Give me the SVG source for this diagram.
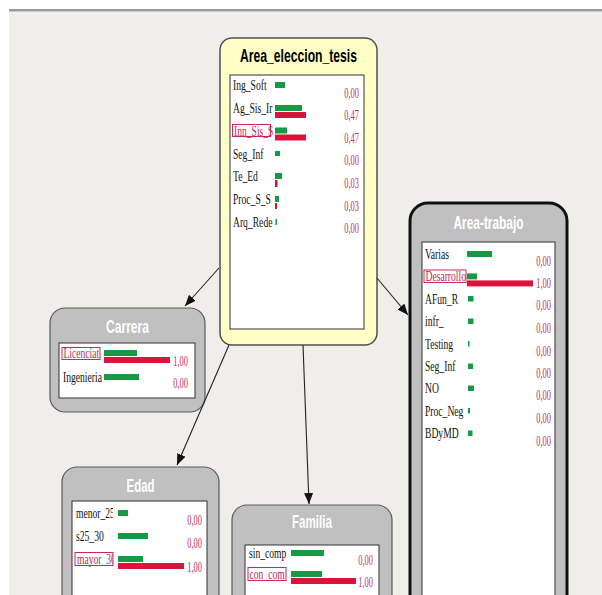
<svg xmlns="http://www.w3.org/2000/svg" width="602" height="595" viewBox="0 0 602 595">
<style>
.bg{fill:#efeeea}
.node{fill:#c0c0c0;stroke:#5a5a5a;stroke-width:1.2}
.inner{fill:#ffffff;stroke:#303030;stroke-width:1}
.title{font-family:"Liberation Sans",Arial,sans-serif;font-weight:bold;font-size:19px;text-anchor:middle;fill:#ffffff}
.lbl{font-family:"Liberation Serif","Times New Roman",serif;font-size:15.5px;fill:#111}
.sel{fill:#c8285a}
.val{font-family:"Liberation Serif","Times New Roman",serif;font-size:15px;fill:#c0305e;text-anchor:end}
.g{fill:#179a45}
.r{fill:#dc143c}
.box{fill:none;stroke:#c8285a;stroke-width:1}
.edge{stroke:#222;stroke-width:1.1;fill:none;marker-end:url(#ah)}
</style>
<defs>
<marker id="ah" markerUnits="userSpaceOnUse" markerWidth="11" markerHeight="9" refX="11" refY="4.5" orient="auto">
<path d="M0,0 L11,4.5 L0,9 z" fill="#111"/>
</marker>
<clipPath id="cT"><rect x="420" y="240" width="46" height="60"/></clipPath>
<clipPath id="cE"><rect x="70" y="500" width="43" height="80"/></clipPath>
</defs>
<rect width="602" height="595" fill="#ffffff"/>
<rect class="bg" x="9" y="12" width="593" height="583"/>
<rect x="9" y="9" width="593" height="2" fill="#9a9a9a"/>
<rect x="9" y="11" width="593" height="1" fill="#c8c8c8"/>

<g id="n-area-eleccion-tesis">
<rect x="220" y="38" width="157" height="307" rx="12" fill="#ffffc6" stroke="#505050" stroke-width="1.5"/>
<text class="title" x="298.5" y="62" style="fill:#000" textLength="117" lengthAdjust="spacingAndGlyphs">Area_eleccion_tesis</text>
<rect class="inner" x="230" y="75" width="134" height="254"/>
<text class="lbl" transform="translate(233,90) scale(.62 1)">Ing_Soft</text>
<text class="lbl" transform="translate(233,113) scale(.62 1)">Ag_Sis_Ir</text>
<rect class="box" x="232.5" y="124.5" width="38" height="12"/>
<text class="lbl sel" transform="translate(234,135.5) scale(.62 1)">Inn_Sis_S</text>
<text class="lbl" transform="translate(233,158.5) scale(.62 1)">Seg_Inf</text>
<text class="lbl" transform="translate(233,181) scale(.62 1)">Te_Ed</text>
<text class="lbl" transform="translate(233,204) scale(.62 1)">Proc_S_S</text>
<text class="lbl" transform="translate(233,227) scale(.62 1)">Arq_Rede</text>
<rect class="g" x="275" y="82" width="10" height="6"/>
<rect class="g" x="275" y="105" width="27" height="6"/>
<rect class="r" x="275" y="112" width="31" height="6"/>
<rect class="g" x="275" y="127.5" width="12" height="6"/>
<rect class="r" x="275" y="134.5" width="31" height="6"/>
<rect class="g" x="275" y="151" width="5" height="5"/>
<rect class="g" x="275" y="173" width="7" height="6"/>
<rect class="r" x="275" y="180" width="2.5" height="7"/>
<rect class="g" x="275" y="196" width="4" height="6"/>
<rect class="r" x="275" y="203" width="2" height="6"/>
<rect class="g" x="275.5" y="219" width="1.5" height="6"/>
<text class="val" transform="translate(359,98) scale(.56 1)">0,00</text>
<text class="val" transform="translate(359,120) scale(.56 1)">0,47</text>
<text class="val" transform="translate(359,143) scale(.56 1)">0,47</text>
<text class="val" transform="translate(359,165) scale(.56 1)">0,00</text>
<text class="val" transform="translate(359,188) scale(.56 1)">0,03</text>
<text class="val" transform="translate(359,210.5) scale(.56 1)">0,03</text>
<text class="val" transform="translate(359,233) scale(.56 1)">0,00</text>
</g>

<g id="n-area-trabajo">
<rect x="410" y="203" width="157" height="420" rx="18" fill="#c0c0c0" stroke="#101010" stroke-width="3"/>
<text class="title" x="488.5" y="229" textLength="70" lengthAdjust="spacingAndGlyphs">Area-trabajo</text>
<rect class="inner" x="422" y="242" width="133" height="400"/>
<text class="lbl" transform="translate(425,259) scale(.62 1)">Varias</text>
<rect class="box" x="424" y="270" width="42" height="12.5"/>
<g clip-path="url(#cT)"><text class="lbl sel" transform="translate(425.5,281.4) scale(.62 1)">Desarrollo</text></g>
<text class="lbl" transform="translate(425,303.8) scale(.62 1)">AFun_R</text>
<text class="lbl" transform="translate(425,326.2) scale(.62 1)">infr_</text>
<text class="lbl" transform="translate(425,348.6) scale(.62 1)">Testing</text>
<text class="lbl" transform="translate(425,371) scale(.62 1)">Seg_Inf</text>
<text class="lbl" transform="translate(425,393.4) scale(.62 1)">NO</text>
<text class="lbl" transform="translate(425,415.8) scale(.62 1)">Proc_Neg</text>
<text class="lbl" transform="translate(425,438.2) scale(.62 1)">BDyMD</text>
<rect class="g" x="467" y="251" width="25" height="6"/>
<rect class="g" x="467" y="273.4" width="10" height="6"/>
<rect class="r" x="467" y="280.4" width="66" height="6"/>
<rect class="g" x="468" y="296" width="5.5" height="5.5"/>
<rect class="g" x="468" y="318.5" width="5.5" height="5.5"/>
<rect class="g" x="468" y="341" width="1.5" height="5.5"/>
<rect class="g" x="468" y="363.5" width="5" height="5.5"/>
<rect class="g" x="468" y="385.5" width="6" height="5.5"/>
<rect class="g" x="468" y="408" width="2" height="5.5"/>
<rect class="g" x="468" y="430.5" width="4.5" height="5.5"/>
<text class="val" transform="translate(551,265.5) scale(.56 1)">0,00</text>
<text class="val" transform="translate(551,287.5) scale(.56 1)">1,00</text>
<text class="val" transform="translate(551,310) scale(.56 1)">0,00</text>
<text class="val" transform="translate(551,332.5) scale(.56 1)">0,00</text>
<text class="val" transform="translate(551,356) scale(.56 1)">0,00</text>
<text class="val" transform="translate(551,378) scale(.56 1)">0,00</text>
<text class="val" transform="translate(551,400) scale(.56 1)">0,00</text>
<text class="val" transform="translate(551,422.5) scale(.56 1)">0,00</text>
<text class="val" transform="translate(551,446) scale(.56 1)">0,00</text>
</g>

<g id="n-carrera">
<rect class="node" x="50" y="308" width="155" height="104" rx="15"/>
<text class="title" x="127.5" y="333" textLength="43" lengthAdjust="spacingAndGlyphs">Carrera</text>
<rect class="inner" x="59" y="343" width="136" height="55"/>
<rect class="box" x="62" y="347.5" width="38" height="12"/>
<text class="lbl sel" transform="translate(63.5,358) scale(.62 1)">Licenciat</text>
<text class="lbl" transform="translate(63,382) scale(.62 1)">Ingenieria</text>
<rect class="g" x="104" y="350" width="33" height="6"/>
<rect class="r" x="104" y="357" width="66" height="6"/>
<rect class="g" x="104" y="374" width="35" height="6"/>
<text class="val" transform="translate(188,366) scale(.56 1)">1,00</text>
<text class="val" transform="translate(188,388) scale(.56 1)">0,00</text>
</g>

<g id="n-edad">
<rect class="node" x="62" y="467" width="157" height="160" rx="15"/>
<text class="title" x="140.5" y="492" textLength="28" lengthAdjust="spacingAndGlyphs">Edad</text>
<rect class="inner" x="72" y="501" width="135" height="120"/>
<g clip-path="url(#cE)">
<text class="lbl" transform="translate(76,518) scale(.62 1)">menor_25</text>
<text class="lbl sel" transform="translate(77,564) scale(.62 1)">mayor_30</text>
</g>
<text class="lbl" transform="translate(76,541) scale(.62 1)">s25_30</text>
<rect class="box" x="75" y="552.5" width="38" height="13"/>
<rect class="g" x="118" y="510" width="10" height="6"/>
<rect class="g" x="118" y="533" width="30" height="6"/>
<rect class="g" x="118" y="556" width="25" height="6"/>
<rect class="r" x="118" y="563" width="66" height="6"/>
<text class="val" transform="translate(202,525) scale(.56 1)">0,00</text>
<text class="val" transform="translate(202,548) scale(.56 1)">0,00</text>
<text class="val" transform="translate(202,572) scale(.56 1)">1,00</text>
</g>

<g id="n-familia">
<rect class="node" x="232" y="505" width="160" height="120" rx="15"/>
<text class="title" x="312" y="528" textLength="40" lengthAdjust="spacingAndGlyphs">Familia</text>
<rect class="inner" x="245" y="545" width="134" height="80"/>
<text class="lbl" transform="translate(249,558) scale(.62 1)">sin_comp</text>
<rect class="box" x="248" y="567.5" width="38" height="13"/>
<text class="lbl sel" transform="translate(249.5,579) scale(.62 1)">con_com</text>
<rect class="g" x="291" y="550" width="33" height="6"/>
<rect class="g" x="291" y="571" width="31" height="6"/>
<rect class="r" x="291" y="578" width="65" height="6"/>
<text class="val" transform="translate(373,565) scale(.56 1)">0,00</text>
<text class="val" transform="translate(373,587) scale(.56 1)">1,00</text>
</g>

<g id="connectors">
<path class="edge" d="M219,268 L185,306"/>
<path class="edge" d="M377,278 L408,315"/>
<path class="edge" d="M303,345 L309,504"/>
<path class="edge" d="M229,345 L177,465"/>
</g>
</svg>
